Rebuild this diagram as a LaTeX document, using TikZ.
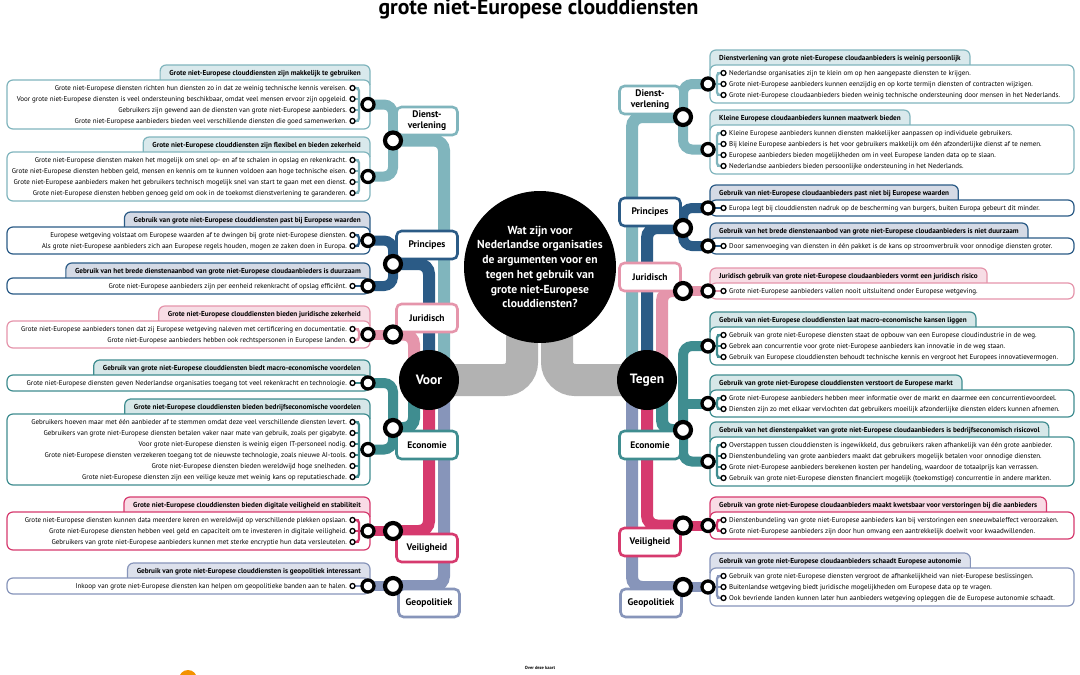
\documentclass[tikz,border=0pt]{standalone}
\usepackage{fontspec}
\setmainfont{PT Sans}
\usetikzlibrary{calc}
\pgfdeclarelayer{bg}
\pgfdeclarelayer{lines}
\pgfsetlayers{bg,lines,main}
\definecolor{cDi}{HTML}{80B5BD}
\definecolor{cDiL}{HTML}{D9E9EC}
\definecolor{cPr}{HTML}{2B5B86}
\definecolor{cPrL}{HTML}{D5DAE5}
\definecolor{cJu}{HTML}{E595AB}
\definecolor{cJuL}{HTML}{F7DDE5}
\definecolor{cEc}{HTML}{3F8D90}
\definecolor{cEcL}{HTML}{D6E7E8}
\definecolor{cVe}{HTML}{D63A6E}
\definecolor{cVeL}{HTML}{F9DBE5}
\definecolor{cGe}{HTML}{8795BA}
\definecolor{cGeL}{HTML}{DDE1EC}
\definecolor{cGray}{HTML}{B2B2B2}
\definecolor{cOrange}{HTML}{F39200}
\tikzset{
 itemtxt/.style={font=\fontsize{7}{8}\selectfont, inner sep=0pt},
 hdr/.style={font=\bfseries\fontsize{7.2}{8}\selectfont, inner sep=0pt},
 sring/.style={circle, draw=black, fill=white, line width=1.3pt, minimum size=5pt, inner sep=0pt},
 gring/.style={circle, draw=black, fill=white, line width=3.3pt, minimum size=12pt, inner sep=0pt},
 jring/.style={circle, draw=black, fill=white, line width=4.2pt, minimum size=16pt, inner sep=0pt},
 bracket/.style={line width=2.3pt, rounded corners=3pt},
 branch/.style={line width=10pt, rounded corners=9pt},
 tube/.style={line width=12pt, rounded corners=10pt},
 catbox/.style={draw, fill=white, line width=2.6pt, rounded corners=5pt, minimum width=61pt, minimum height=28pt, align=center, font=\bfseries\fontsize{9.5}{11}\selectfont, inner sep=1pt},
 hub/.style={circle, fill=black, text=white, inner sep=0pt},
 grayband/.style={cGray, line width=32pt, rounded corners=18pt},
 gbox/.style={line width=1.2pt, rounded corners=6pt},
}
% left group: #1 id, #2 header top, #3 n, #4 colour, #5 light colour, #6 header, #7 items
\newcommand\leftgrp[7]{%
\pgfmathsetmacro\gT{#2}%
\pgfmathsetmacro\gM{#2+15}%
\pgfmathsetmacro\gB{#2+31+11*(#3-1)}%
\pgfmathsetmacro\gC{#2+23+5.5*(#3-1)}%
\coordinate (#1T) at (0,\gT);
\coordinate (#1M) at (0,\gM);
\coordinate (#1bx) at (359,\gC);
\node[hdr, anchor=mid east] (#1h) at (361,\gT+8) {#6};
\node[gring] (#1g) at (368,\gC) {};
\foreach \itm [count=\i] in {#7} {%
  \pgfmathsetmacro\gY{\gM+8+11*(\i-1)}%
  \node[itemtxt, anchor=mid east] (#1x\i) at (347,\gY) {\itm};
  \node[sring] (#1s\i) at (352.5,\gY) {};
}
\begin{pgfonlayer}{bg}
\coordinate (#1tl) at ([xshift=-9pt]#1h.west);
\filldraw[gbox, draw=#4, fill=#5] (#1tl |- #1M) -- (#1tl |- #1T) -- (370,\gT) -- (370,\gM+5);
\filldraw[gbox, draw=#4, fill=white] (7,\gM) rectangle (370,\gB);
\end{pgfonlayer}
\begin{pgfonlayer}{lines}
\ifnum#3=1\relax
  \draw[bracket, #4] (#1s1.center) -- (#1g.center);
\else
  \draw[bracket, #4] (#1s1.center) -- (#1s1 -| #1bx) -- (#1s#3 -| #1bx) -- (#1s#3.center);
  \foreach \i in {1,...,#3} {\draw[bracket, #4] (#1s\i.center) -- (#1s\i -| #1bx);}
  \draw[bracket, #4] (#1bx) -- (#1g.center);
\fi
\end{pgfonlayer}
}
\newcommand\rightgrp[7]{%
\pgfmathsetmacro\gT{#2}%
\pgfmathsetmacro\gM{#2+15}%
\pgfmathsetmacro\gB{#2+31+11*(#3-1)}%
\pgfmathsetmacro\gC{#2+23+5.5*(#3-1)}%
\coordinate (#1T) at (0,\gT);
\coordinate (#1M) at (0,\gM);
\coordinate (#1bx) at (717,\gC);
\node[hdr, anchor=mid west] (#1h) at (719,\gT+8) {#6};
\node[gring] (#1g) at (708,\gC) {};
\foreach \itm [count=\i] in {#7} {%
  \pgfmathsetmacro\gY{\gM+8+11*(\i-1)}%
  \node[itemtxt, anchor=mid west] (#1x\i) at (729,\gY) {\itm};
  \node[sring] (#1s\i) at (723.5,\gY) {};
}
\begin{pgfonlayer}{bg}
\coordinate (#1tr) at ([xshift=9pt]#1h.east);
\filldraw[gbox, draw=#4, fill=#5] (#1tr |- #1M) -- (#1tr |- #1T) -- (710,\gT) -- (710,\gM+5);
\filldraw[gbox, draw=#4, fill=white] (710,\gM) rectangle (1074,\gB);
\end{pgfonlayer}
\begin{pgfonlayer}{lines}
\ifnum#3=1\relax
  \draw[bracket, #4] (#1s1.center) -- (#1g.center);
\else
  \draw[bracket, #4] (#1s1.center) -- (#1s1 -| #1bx) -- (#1s#3 -| #1bx) -- (#1s#3.center);
  \foreach \i in {1,...,#3} {\draw[bracket, #4] (#1s\i.center) -- (#1s\i -| #1bx);}
  \draw[bracket, #4] (#1bx) -- (#1g.center);
\fi
\end{pgfonlayer}
}
\begin{document}
\begin{tikzpicture}[x=1pt, y=-1pt]
\useasboundingbox (0,0) rectangle (1080,675);
\begin{pgfonlayer}{bg}\fill[white] (0,0) rectangle (1080,675);\end{pgfonlayer}

\node[font=\bfseries\fontsize{21.7}{24}\selectfont, anchor=base, inner sep=0pt] (title) at (538.5,14) {grote niet-Europese clouddiensten};

% hubs
\node[hub, minimum size=152pt, font=\bfseries\fontsize{11.6}{14.7}\selectfont, align=center] (Q) at (540,267) {Wat zijn voor\\Nederlandse organisaties\\de argumenten voor en\\tegen het gebruik van\\grote niet-Europese\\clouddiensten?};
\node[hub, minimum size=60pt, font=\bfseries\fontsize{13.5}{15}\selectfont] (Voor) at (429,380) {Voor};
\node[hub, minimum size=60pt, font=\bfseries\fontsize{13.5}{15}\selectfont] (Tegen) at (647,380) {Tegen};
\coordinate (VoorA) at ([xshift=15pt]Voor.center);
\coordinate (VoorB) at (Voor.center);
\coordinate (VoorC) at ([xshift=-15pt]Voor.center);
\coordinate (TegenA) at ([xshift=-15pt]Tegen.center);
\coordinate (TegenB) at (Tegen.center);
\coordinate (TegenC) at ([xshift=15pt]Tegen.center);
\coordinate (QL) at (522,300);
\coordinate (QR) at (557,300);

% left groups
\leftgrp{L1}{65}{4}{cDi}{cDiL}{Grote niet-Europese clouddiensten zijn makkelijk te gebruiken}{
 {Grote niet-Europese diensten richten hun diensten zo in dat ze weinig technische kennis vereisen.},
 {Voor grote niet-Europese diensten is veel ondersteuning beschikbaar, omdat veel mensen ervoor zijn opgeleid.},
 {Gebruikers zijn gewend aan de diensten van grote niet-Europese aanbieders.},
 {Grote niet-Europese aanbieders bieden veel verschillende diensten die goed samenwerken.}}
\leftgrp{L2}{137}{4}{cDi}{cDiL}{Grote niet-Europese clouddiensten zijn flexibel en bieden zekerheid}{
 {Grote niet-Europese diensten maken het mogelijk om snel op- en af te schalen in opslag en rekenkracht.},
 {Grote niet-Europese diensten hebben geld, mensen en kennis om te kunnen voldoen aan hoge technische eisen.},
 {Grote niet-Europese aanbieders maken het gebruikers technisch mogelijk snel van start te gaan met een dienst.},
 {Grote niet-Europese diensten hebben genoeg geld om ook in de toekomst dienstverlening te garanderen.}}
\leftgrp{L3}{212}{2}{cPr}{cPrL}{Gebruik van grote niet-Europese clouddiensten past bij Europese waarden}{
 {Europese wetgeving volstaat om Europese waarden af te dwingen bij grote niet-Europese diensten.},
 {Als grote niet-Europese aanbieders zich aan Europese regels houden, mogen ze zaken doen in Europa.}}
\leftgrp{L4}{263}{1}{cPr}{cPrL}{Gebruik van het brede dienstenaanbod van grote niet-Europese cloudaanbieders is duurzaam}{
 {Grote niet-Europese aanbieders zijn per eenheid rekenkracht of opslag efficiënt.}}
\leftgrp{L5}{306}{2}{cJu}{cJuL}{Grote niet-Europese clouddiensten bieden juridische zekerheid}{
 {Grote niet-Europese aanbieders tonen dat zij Europese wetgeving naleven met certificering en documentatie.},
 {Grote niet-Europese aanbieders hebben ook rechtspersonen in Europese landen.}}
\leftgrp{L6}{360}{1}{cEc}{cEcL}{Gebruik van grote niet-Europese clouddiensten biedt macro-economische voordelen}{
 {Grote niet-Europese diensten geven Nederlandse organisaties toegang tot veel rekenkracht en technologie.}}
\leftgrp{L7}{399}{6}{cEc}{cEcL}{Grote niet-Europese clouddiensten bieden bedrijfseconomische voordelen}{
 {Gebruikers hoeven maar met één aanbieder af te stemmen omdat deze veel verschillende diensten levert.},
 {Gebruikers van grote niet-Europese diensten betalen vaker naar mate van gebruik, zoals per gigabyte.},
 {Voor grote niet-Europese diensten is weinig eigen IT-personeel nodig.},
 {Grote niet-Europese diensten verzekeren toegang tot de nieuwste technologie, zoals nieuwe AI-tools.},
 {Grote niet-Europese diensten bieden wereldwijd hoge snelheden.},
 {Grote niet-Europese diensten zijn een veilige keuze met weinig kans op reputatieschade.}}
\leftgrp{L8}{497}{3}{cVe}{cVeL}{Grote niet-Europese clouddiensten bieden digitale veiligheid en stabiliteit}{
 {Grote niet-Europese diensten kunnen data meerdere keren en wereldwijd op verschillende plekken opslaan.},
 {Grote niet-Europese diensten hebben veel geld en capaciteit om te investeren in digitale veiligheid.},
 {Gebruikers van grote niet-Europese aanbieders kunnen met sterke encryptie hun data versleutelen.}}
\leftgrp{L9}{563}{1}{cGe}{cGeL}{Gebruik van grote niet-Europese clouddiensten is geopolitiek interessant}{
 {Inkoop van grote niet-Europese diensten kan helpen om geopolitieke banden aan te halen.}}

% right groups
\rightgrp{R1}{50}{3}{cDi}{cDiL}{Dienstverlening van grote niet-Europese cloudaanbieders is weinig persoonlijk}{
 {Nederlandse organisaties zijn te klein om op hen aangepaste diensten te krijgen.},
 {Grote niet-Europese aanbieders kunnen eenzijdig en op korte termijn diensten of contracten wijzigen.},
 {Grote niet-Europese cloudaanbieders bieden weinig technische ondersteuning door mensen in het Nederlands.}}
\rightgrp{R2}{110}{4}{cDi}{cDiL}{Kleine Europese cloudaanbieders kunnen maatwerk bieden}{
 {Kleine Europese aanbieders kunnen diensten makkelijker aanpassen op individuele gebruikers.},
 {Bij kleine Europese aanbieders is het voor gebruikers makkelijk om één afzonderlijke dienst af te nemen.},
 {Europese aanbieders bieden mogelijkheden om in veel Europese landen data op te slaan.},
 {Nederlandse aanbieders bieden persoonlijke ondersteuning in het Nederlands.}}
\rightgrp{R3}{185}{1}{cPr}{cPrL}{Gebruik van niet-Europese cloudaanbieders past niet bij Europese waarden}{
 {Europa legt bij clouddiensten nadruk op de bescherming van burgers, buiten Europa gebeurt dit minder.}}
\rightgrp{R4}{223}{1}{cPr}{cPrL}{Gebruik van het brede dienstenaanbod van grote niet-Europese cloudaanbieders is niet duurzaam}{
 {Door samenvoeging van diensten in één pakket is de kans op stroomverbruik voor onnodige diensten groter.}}
\rightgrp{R5}{268}{1}{cJu}{cJuL}{Juridisch gebruik van grote niet-Europese cloudaanbieders vormt een juridisch risico}{
 {Grote niet-Europese aanbieders vallen nooit uitsluitend onder Europese wetgeving.}}
\rightgrp{R6}{312}{3}{cEc}{cEcL}{Gebruik van niet-Europese clouddiensten laat macro-economische kansen liggen}{
 {Gebruik van grote niet-Europese diensten staat de opbouw van een Europese cloudindustrie in de weg.},
 {Gebrek aan concurrentie voor grote niet-Europese aanbieders kan innovatie in de weg staan.},
 {Gebruik van Europese clouddiensten behoudt technische kennis en vergroot het Europees innovatievermogen.}}
\rightgrp{R7}{375}{2}{cEc}{cEcL}{Gebruik van grote niet-Europese clouddiensten verstoort de Europese markt}{
 {Grote niet-Europese aanbieders hebben meer informatie over de markt en daarmee een concurrentievoordeel.},
 {Diensten zijn zo met elkaar vervlochten dat gebruikers moeilijk afzonderlijke diensten elders kunnen afnemen.}}
\rightgrp{R8}{422}{4}{cEc}{cEcL}{Gebruik van het dienstenpakket van grote niet-Europese cloudaanbieders is bedrijfseconomisch risicovol}{
 {Overstappen tussen clouddiensten is ingewikkeld, dus gebruikers raken afhankelijk van één grote aanbieder.},
 {Dienstenbundeling van grote aanbieders maakt dat gebruikers mogelijk betalen voor onnodige diensten.},
 {Grote niet-Europese aanbieders berekenen kosten per handeling, waardoor de totaalprijs kan verrassen.},
 {Gebruik van grote niet-Europese diensten financiert mogelijk (toekomstige) concurrentie in andere markten.}}
\rightgrp{R9}{497}{2}{cVe}{cVeL}{Gebruik van grote niet-Europese cloudaanbieders maakt kwetsbaar voor verstoringen bij die aanbieders}{
 {Dienstenbundeling van grote niet-Europese aanbieders kan bij verstoringen een sneeuwbaleffect veroorzaken.},
 {Grote niet-Europese aanbieders zijn door hun omvang een aantrekkelijk doelwit voor kwaadwillenden.}}
\rightgrp{R10}{553}{3}{cGe}{cGeL}{Gebruik van grote niet-Europese cloudaanbieders schaadt Europese autonomie}{
 {Gebruik van grote niet-Europese diensten vergroot de afhankelijkheid van niet-Europese beslissingen.},
 {Buitenlandse wetgeving biedt juridische mogelijkheden om Europese data op te vragen.},
 {Ook bevriende landen kunnen later hun aanbieders wetgeving opleggen die de Europese autonomie schaadt.}}

% category boxes (above the tubes)
\node[catbox, draw=cDi] (catDl) at (427,121) {Dienst-\\verlening};
\node[catbox, draw=cPr] (catPl) at (427,245) {Principes};
\node[catbox, draw=cJu] (catJl) at (427,318) {Juridisch};
\node[catbox, draw=cEc] (catEl) at (427,445) {Economie};
\node[catbox, draw=cVe] (catVl) at (427,548) {Veiligheid};
\node[catbox, draw=cGe] (catGl) at (429,603) {Geopolitiek};
\node[catbox, draw=cDi] (catDr) at (650,100) {Dienst-\\verlening};
\node[catbox, draw=cPr] (catPr) at (650,212) {Principes};
\node[catbox, draw=cJu] (catJr) at (650,277) {Juridisch};
\node[catbox, draw=cEc] (catEr) at (650,445) {Economie};
\node[catbox, draw=cVe] (catVr) at (650,542) {Veiligheid};
\node[catbox, draw=cGe] (catGr) at (651,603) {Geopolitiek};

% junction rings
\node[jring] (JDl) at (393,140.5) {};
\node[jring] (JPl) at (393,264) {};
\node[jring] (JJl) at (393,334.5) {};
\node[jring] (JEl) at (393,428) {};
\node[jring] (JVl) at (393,531) {};
\node[jring] (JGl) at (393,586) {};
\node[jring] (JDr) at (683,117) {};
\node[jring] (JPr) at (683,228) {};
\node[jring] (JJr) at (683,291) {};
\node[jring] (JEr) at (683,430) {};
\node[jring] (JVr) at (683,525.5) {};
\node[jring] (JGr) at (683,587) {};

\begin{pgfonlayer}{lines}
\draw[grayband] (Voor.center) -| (QL);
\draw[grayband] (Tegen.center) -| (QR);
% left tubes
\draw[tube, cDi] (JDl.center) -| (VoorA);
\draw[tube, cPr] (JPl.center) -| (VoorB);
\draw[tube, cJu] (JJl.center) -| (VoorC);
\draw[tube, cEc] (JEl.center) -| (VoorC);
\draw[tube, cVe] (JVl.center) -| (VoorB);
\draw[tube, cGe] (JGl.center) -| (VoorA);
% right tubes
\draw[tube, cDi] (JDr.center) -| (TegenA);
\draw[tube, cPr] (JPr.center) -| (TegenB);
\draw[tube, cJu] (JJr.center) -| (TegenC);
\draw[tube, cEc] (JEr.center) -| (TegenC);
\draw[tube, cVe] (JVr.center) -| (TegenB);
\draw[tube, cGe] (JGr.center) -| (TegenA);
% left branches
\draw[branch, cDi] (L1g.center) -| (JDl.center) |- (L2g.center);
\draw[branch, cPr] (L3g.center) -| (JPl.center) |- (L4g.center);
\draw[branch, cJu] (L5g.center) -- (JJl.center);
\draw[branch, cEc] (L6g.center) -| (JEl.center) |- (L7g.center);
\draw[branch, cVe] (L8g.center) -- (JVl.center);
\draw[branch, cGe] (L9g.center) -- (JGl.center);
% right branches
\draw[branch, cDi] (R1g.center) -| (JDr.center) |- (R2g.center);
\draw[branch, cPr] (R3g.center) -| (JPr.center) |- (R4g.center);
\draw[branch, cJu] (R5g.center) -- (JJr.center);
\draw[branch, cEc] (R6g.center) -| (JEr.center) |- (R8g.center);
\draw[branch, cEc] (R7g.center) -- (R7g -| JEr);
\draw[branch, cVe] (R9g.center) -- (JVr.center);
\draw[branch, cGe] (R10g.center) -- (JGr.center);
\end{pgfonlayer}

% footer
\node[circle, fill=cOrange, minimum size=18pt, inner sep=0pt] (dot) at (188,679) {};
\node[font=\bfseries\fontsize{4.5}{5}\selectfont, inner sep=0pt] (over) at (540,668) {Over deze kaart};
\end{tikzpicture}
\end{document}
